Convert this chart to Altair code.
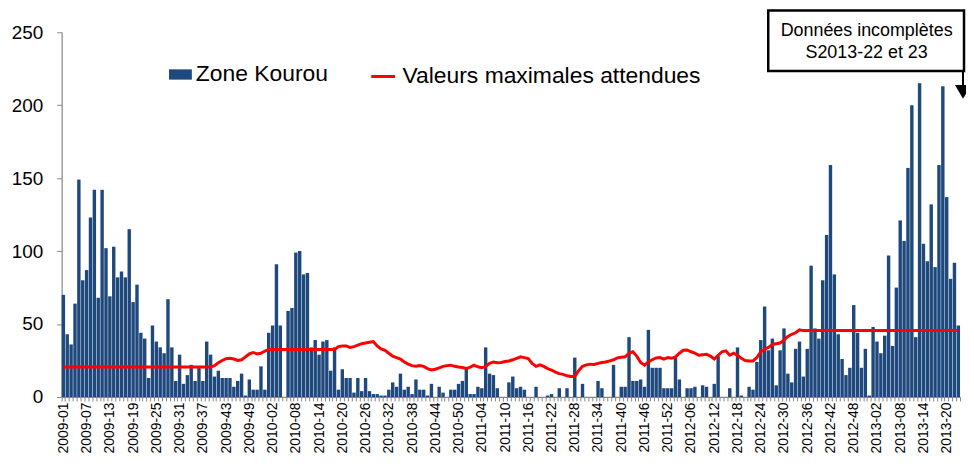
import altair as alt
import pandas as pd

FONT = "Liberation Sans, Arial, sans-serif"

# ISO weeks 2009-01 .. 2013-23
year_weeks = [(2009, 53), (2010, 52), (2011, 52), (2012, 52), (2013, 23)]
weeks = [f"{y}-{w:02d}" for y, n in year_weeks for w in range(1, n + 1)]

shown_labels = [
    "2009-01", "2009-07", "2009-13", "2009-19", "2009-25", "2009-31", "2009-37", "2009-43", "2009-49",
    "2010-02", "2010-08", "2010-14", "2010-20", "2010-26", "2010-32", "2010-38", "2010-44", "2010-50",
    "2011-04", "2011-10", "2011-16", "2011-22", "2011-28", "2011-34", "2011-40", "2011-46", "2011-52",
    "2012-06", "2012-12", "2012-18", "2012-24", "2012-30", "2012-36", "2012-42", "2012-48",
    "2013-02", "2013-08", "2013-14", "2013-20",
]

# Zone Kourou weekly cases
cases = [
    70, 43, 36, 64, 149, 80, 87, 123, 142, 68,
    142, 102, 69, 103, 82, 86, 82, 115, 65, 77,
    44, 40, 13, 49, 38, 34, 30, 67, 34, 11,
    29, 9, 15, 22, 11, 20, 11, 38, 29, 14,
    18, 13, 13, 13, 7, 11, 16, 1, 12, 5,
    5, 21, 5, 44, 49, 91, 49, 0, 59, 61,
    99, 100, 84, 85, 34, 39, 29, 38, 39, 18,
    34, 5, 19, 13, 13, 3, 13, 4, 13, 4,
    2, 2, 1, 1, 5, 10, 7, 16, 5, 7,
    2, 12, 5, 5, 1, 9, 0, 7, 3, 0,
    5, 5, 9, 11, 20, 2, 2, 7, 6, 34,
    16, 15, 6, 0, 0, 10, 14, 6, 7, 5,
    0, 0, 7, 0, 0, 1, 2, 0, 6, 0,
    6, 0, 27, 0, 9, 0, 0, 0, 11, 6,
    0, 0, 22, 0, 7, 7, 41, 11, 11, 12,
    7, 46, 20, 20, 20, 6, 6, 6, 27, 12,
    0, 6, 6, 7, 0, 8, 7, 0, 9, 28,
    0, 0, 6, 0, 34, 1, 0, 7, 5, 24,
    39, 62, 32, 40, 8, 32, 47, 16, 10, 33,
    38, 14, 33, 90, 47, 40, 80, 111, 159, 84,
    43, 26, 15, 20, 63, 44, 20, 33, 1, 48,
    38, 30, 42, 97, 35, 75, 121, 107, 157, 200,
    41, 215, 105, 93, 132, 89, 159, 213, 137, 81,
    92, 49,
]

# Valeurs maximales attendues
seuil = [
    20.5, 20.5, 20.5, 20.5, 20.5, 20.5, 20.5, 20.5, 20.5, 20.5,
    20.5, 20.5, 20.5, 20.5, 20.5, 20.5, 20.5, 20.5, 20.5, 20.5,
    20.5, 20.5, 20.5, 20.5, 20.5, 20.5, 20.5, 20.5, 20.5, 20.5,
    20.5, 20.5, 20.5, 20.5, 20.5, 20.5, 20.5, 20.5, 20.5, 21.5,
    23.5, 25, 26.3, 26.5, 26, 25, 25.5, 27.5, 29.5, 30.5,
    29.5, 30, 31.5, 32.5, 32.5, 32.5, 32.5, 32.5, 32.5, 32.5,
    32.5, 32.5, 32.5, 32.5, 32.5, 32.5, 32.5, 32.5, 32.5, 32.5,
    32.5, 34.5, 35, 35, 34, 34.5, 35.5, 36.5, 37, 37.5,
    38, 35, 33, 32, 30, 28, 27, 26, 24, 22.5,
    21.5, 21, 21.5, 21, 19.5, 18.5, 19, 20, 21, 21.5,
    21.8, 21, 20.5, 20.2, 19.5, 20.5, 21.8, 20.7, 20, 21,
    23, 24, 23.5, 23.6, 24.3, 24.7, 25.5, 26.5, 27.5, 27,
    26.3, 23, 21, 22, 21, 19.5, 18.5, 17, 16, 15.5,
    14.5, 14, 14, 18, 21, 22, 22.5, 22.3, 23, 23.6,
    24, 24.7, 25.5, 26.8, 27.2, 27.5, 30, 31, 28, 23.6,
    21.8, 24, 25.5, 26.8, 27, 26, 27, 26.5, 27.5, 30,
    32, 32.2, 31, 30, 28.6, 29, 29.3, 28, 26, 28.6,
    31, 31.6, 28.6, 30, 28.6, 26.5, 25, 24.7, 24.7, 27,
    31, 32.7, 34, 36, 36.5, 37, 39, 41.5, 43, 44,
    46, 45.5, 45.5, 45.5, 45.5, 45.5, 45.5, 45.5, 45.5, 45.5,
    45.5, 45.5, 45.5, 45.5, 45.5, 45.5, 45.5, 45.5, 45.5, 45.5,
    45.5, 45.5, 45.5, 45.5, 45.5, 45.5, 45.5, 45.5, 45.5, 45.5,
    45.5, 45.5, 45.5, 45.5, 45.5, 45.5, 45.5, 45.5, 45.5, 45.5,
    45.5, 45.5,
]

series_names = ["Zone Kourou", "Valeurs maximales attendues"]
note_lines = ["Données incomplètes", "S2013-22 et 23"]
y_ticks = [0, 50, 100, 150, 200, 250]

assert len(weeks) == len(cases) == len(seuil), (len(weeks), len(cases), len(seuil))

df = pd.DataFrame({
    "semaine": weeks,
    "cas": cases,
    "seuil": seuil,
    "s_bar": series_names[0],
    "s_line": series_names[1],
})

shown_js = "[" + ",".join(f"'{s}'" for s in shown_labels) + "]"

x_enc = alt.X(
    "semaine:N",
    sort="ascending",
    scale=alt.Scale(paddingInner=0.12, paddingOuter=0),
    axis=alt.Axis(
        title=None, labelAngle=-90, labelOverlap=False,
        labelExpr=f"indexof({shown_js}, datum.value) >= 0 ? datum.value : ''",
        tickBand="extent", tickSize=4, labelPadding=1,
        labelFontSize=14, labelFont=FONT, labelColor="black",
        domainColor="#868686", tickColor="#868686", domainWidth=1.2,
    ),
)

y_axis = alt.Axis(
    title=None, values=y_ticks, grid=False, tickSize=5, labelPadding=14,
    labelFontSize=19, labelFont=FONT, labelColor="black",
    domainColor="#868686", tickColor="#868686", domainWidth=1.2,
)
y_scale = alt.Scale(domain=[0, 250], nice=False)

bars = alt.Chart(df).mark_bar(strokeWidth=0).encode(
    x=x_enc,
    y=alt.Y("cas:Q", scale=y_scale, axis=y_axis),
    fill=alt.Fill(
        "s_bar:N",
        scale=alt.Scale(domain=[series_names[0]], range=["#1F497D"]),
        legend=alt.Legend(
            title=None, orient="none", legendX=108, legendY=31, padding=0,
            symbolType="M-1,-0.45H1V0.45H-1Z", symbolSize=529, symbolStrokeWidth=0,
            labelFontSize=23, labelFont=FONT, labelColor="black", labelOffset=4, labelLimit=0,
        ),
    ),
)

line = alt.Chart(df).mark_line(strokeWidth=3).encode(
    x=x_enc,
    y=alt.Y("seuil:Q", scale=y_scale, axis=y_axis),
    stroke=alt.Stroke(
        "s_line:N",
        scale=alt.Scale(domain=[series_names[1]], range=["#FF0000"]),
        legend=alt.Legend(
            title=None, orient="none", legendX=310, legendY=31, padding=0,
            symbolType="stroke", symbolSize=576, symbolStrokeWidth=3,
            labelFontSize=23, labelFont=FONT, labelColor="black", labelOffset=6, labelLimit=0,
        ),
    ),
)

one = pd.DataFrame({"k": [0]})
box = alt.Chart(one).mark_rect(fill="white", stroke="black", strokeWidth=2.5).encode(
    x=alt.value(711), x2=alt.value(908), y=alt.value(-22), y2=alt.value(39)
)
note = alt.Chart(one).mark_text(
    fontSize=18, font=FONT, color="black", align="center", baseline="middle", lineHeight=22
).encode(x=alt.value(810), y=alt.value(-1), text=alt.value(note_lines))
arrow = alt.Chart(one).mark_rule(color="black", strokeWidth=2).encode(
    x=alt.value(907), y=alt.value(39), y2=alt.value(56)
)
head = alt.Chart(one).mark_point(shape="triangle-down", filled=True, color="black", size=260, opacity=1).encode(
    x=alt.value(907), y=alt.value(60)
)

chart = alt.layer(bars, line, box, note, arrow, head).properties(
    width=904, height=367,
    padding={"left": 54, "top": 23, "right": 6, "bottom": 60},
    autosize=alt.AutoSizeParams(type="none"),
    background="white",
).configure_view(stroke=None)

chart.save("out.html", embed_options={"renderer": "svg", "actions": False})
